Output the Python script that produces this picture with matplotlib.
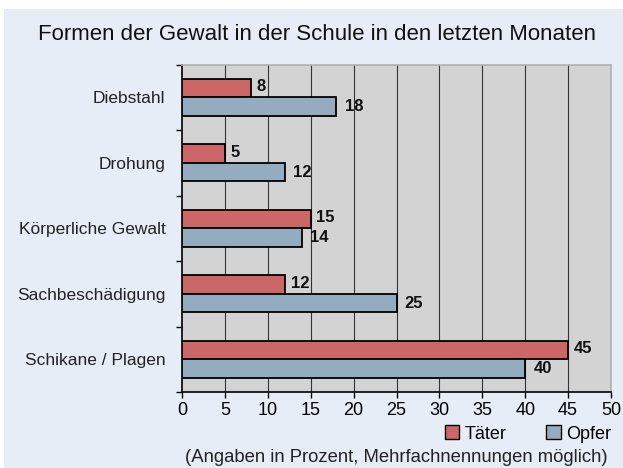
import matplotlib.pyplot as plt
from matplotlib.patches import Patch, Rectangle

categories = ["Diebstahl", "Drohung", "Körperliche Gewalt", "Sachbeschädigung", "Schikane / Plagen"]
taeter = [8, 5, 15, 12, 45]
opfer = [18, 12, 14, 25, 40]
x_ticks = [0, 5, 10, 15, 20, 25, 30, 35, 40, 45, 50]

red = "#cd6666"
blue = "#93acbf"
panel = "#e7edf7"

plt.rcParams['font.family'] = ['Liberation Sans', 'DejaVu Sans']

fig = plt.figure(figsize=(6.23, 4.68), dpi=100)
fig.patch.set_facecolor("white")
fig.patches.append(Rectangle((4 / 623, 0), 1, 1 - 9 / 468, transform=fig.transFigure,
                             facecolor=panel, edgecolor="none", zorder=-10))

ax = fig.add_axes([182 / 623, 1 - 392 / 468, (611 - 182) / 623, (392 - 64.5) / 468])
ax.set_facecolor("#d3d3d3")

h = 0.283
pos = list(range(len(categories)))
ax.barh([p - h / 2 for p in pos], taeter, height=h, color=red, edgecolor="black", linewidth=1.3, zorder=3)
ax.barh([p + h / 2 for p in pos], opfer, height=h, color=blue, edgecolor="black", linewidth=1.3, zorder=3)

for p, t, o in zip(pos, taeter, opfer):
    ax.annotate(str(t), (t, p - h / 2), xytext=(4, 1), textcoords="offset points",
                va="center", ha="left", fontsize=12, fontweight="bold", color="#111111")
    ax.annotate(str(o), (o, p + h / 2), xytext=(6, 0), textcoords="offset points",
                va="center", ha="left", fontsize=12, fontweight="bold", color="#111111")

ax.set_xlim(0, 50)
ax.set_ylim(len(categories) - 0.5, -0.5)
ax.set_xticks(x_ticks)
ax.set_xticklabels([str(v) for v in x_ticks], fontsize=13)
ax.set_yticks(pos)
ax.set_yticklabels(categories, fontsize=12.5, color="#222222")
ax.set_yticks([p + 0.5 for p in range(-1, len(categories))], minor=True)
ax.tick_params(axis="y", which="major", length=0, pad=12)
ax.tick_params(axis="y", which="minor", length=4, direction="out", width=1)
ax.tick_params(axis="x", length=4, direction="out", width=1, pad=3)

for v in x_ticks[1:-1]:
    ax.axvline(v, color="#333333", linewidth=0.8, zorder=1)

for s in ["top", "right"]:
    ax.spines[s].set_color("#b0b0b0")
    ax.spines[s].set_linewidth(1.2)
for s in ["left", "bottom"]:
    ax.spines[s].set_color("black")
    ax.spines[s].set_linewidth(1.2)

fig.text(317 / 623, 1 - 34 / 468, "Formen der Gewalt in der Schule in den letzten Monaten",
         ha="center", va="center", fontsize=16, color="#111111")

handles = [Patch(facecolor=red, edgecolor="black", label="Täter"),
           Patch(facecolor=blue, edgecolor="black", label="Opfer")]
fig.legend(handles=handles, loc="center right", bbox_to_anchor=(611 / 623, 1 - 434 / 468),
           ncol=2, frameon=False, fontsize=13, handlelength=0.8, handleheight=0.8,
           handletextpad=0.3, columnspacing=2.2, borderaxespad=0, borderpad=0)

fig.text(396 / 623, 1 - 458 / 468, "(Angaben in Prozent, Mehrfachnennungen möglich)",
         ha="center", va="center", fontsize=13.3, color="#222222")

fig.savefig("out.png", dpi=100)
